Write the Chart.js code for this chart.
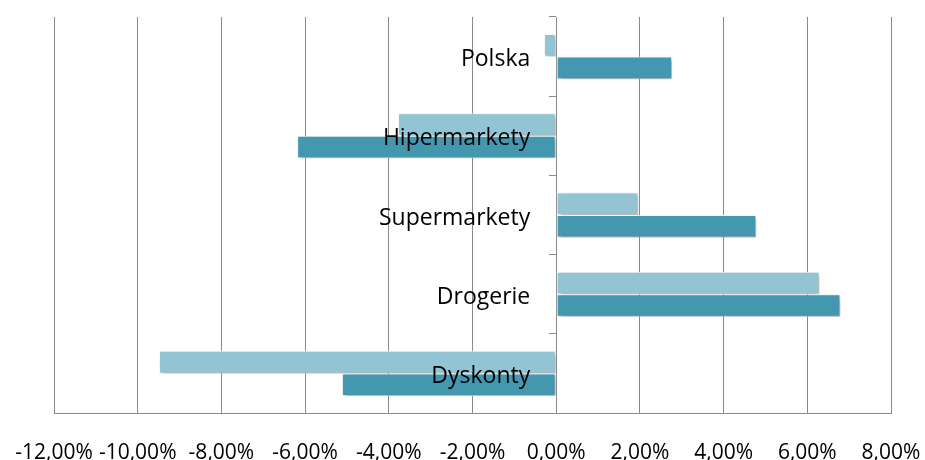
<!DOCTYPE html>
<html>
<head>
<meta charset="utf-8">
<script src="https://cdn.jsdelivr.net/npm/chart.js@4/dist/chart.umd.min.js"></script>
<style>
    html, body { margin: 0; padding: 0; background: #fff; }
    #wrap { width: 925px; height: 460px; }
</style>
</head>
<body>
<div id="wrap"><canvas id="myChart"></canvas></div>
<script>
const categories = ["Polska", "Hipermarkety", "Supermarkety", "Drogerie", "Dyskonty"];
const seriesNames = ["Seria 1", "Seria 2"];
const lightValues = [-0.29, -3.78, 1.96, 6.29, -9.49];
const darkValues = [2.77, -6.19, 4.78, 6.79, -5.12];
const xMin = -12;
const xMax = 8;
const xStep = 2;

const gridColor = '#8a8a8a';

// cien pod słupkami
const shadowPlugin = {
    id: 'barShadow',
    beforeDatasetsDraw(chart) {
        const ctx = chart.ctx;
        ctx.save();
        ctx.shadowColor = 'rgba(0,0,0,0.35)';
        ctx.shadowBlur = 4;
        ctx.shadowOffsetX = 2;
        ctx.shadowOffsetY = 2;
    },
    afterDatasetsDraw(chart) {
        chart.ctx.restore();
    }
};

const ctx = document.getElementById('myChart').getContext('2d');

const myChart = new Chart(ctx, {
    type: 'bar',
    data: {
        labels: categories,
        datasets: [
            {
                label: seriesNames[0],
                data: lightValues,
                backgroundColor: '#93c4d4',
                borderColor: '#ffffff',
                borderWidth: 1,
                borderSkipped: false,
                categoryPercentage: 0.57,
                barPercentage: 1
            },
            {
                label: seriesNames[1],
                data: darkValues,
                backgroundColor: '#4398b0',
                borderColor: '#ffffff',
                borderWidth: 1,
                borderSkipped: false,
                categoryPercentage: 0.57,
                barPercentage: 1
            }
        ]
    },
    options: {
        indexAxis: 'y',
        responsive: true,
        maintainAspectRatio: false,
        animation: false,
        layout: {
            padding: { top: 17, left: 54, right: 34, bottom: 0 }
        },
        plugins: {
            legend: { display: false },
            tooltip: { enabled: false }
        },
        scales: {
            x: {
                min: xMin,
                max: xMax,
                afterFit: (scale) => { scale.height = 47; },
                grid: {
                    color: gridColor,
                    lineWidth: 1,
                    drawTicks: false
                },
                border: { display: true, color: gridColor, width: 1 },
                ticks: {
                    stepSize: xStep,
                    padding: 4,
                    color: '#000',
                    font: { family: 'Open Sans', size: 21, lineHeight: '72px' },
                    maxRotation: 0,
                    autoSkip: false,
                    callback: (value) => value.toFixed(2).replace('.', ',') + '%'
                }
            },
            // oś z kreskami przy zerze
            y: {
                position: { x: 0 },
                grid: {
                    drawOnChartArea: false,
                    drawTicks: true,
                    tickLength: 7,
                    color: gridColor
                },
                border: { display: false },
                ticks: { display: false }
            },
            // etykiety kategorii nad słupkami
            yLabels: {
                type: 'category',
                axis: 'y',
                position: { x: -0.62 },
                grid: { display: false, drawTicks: false },
                border: { display: false },
                ticks: {
                    z: 1,
                    padding: 0,
                    labelOffset: 3,
                    color: '#000',
                    font: { family: 'Open Sans', size: 23 }
                }
            }
        }
    },
    plugins: [shadowPlugin]
});
</script>
</body>
</html>
